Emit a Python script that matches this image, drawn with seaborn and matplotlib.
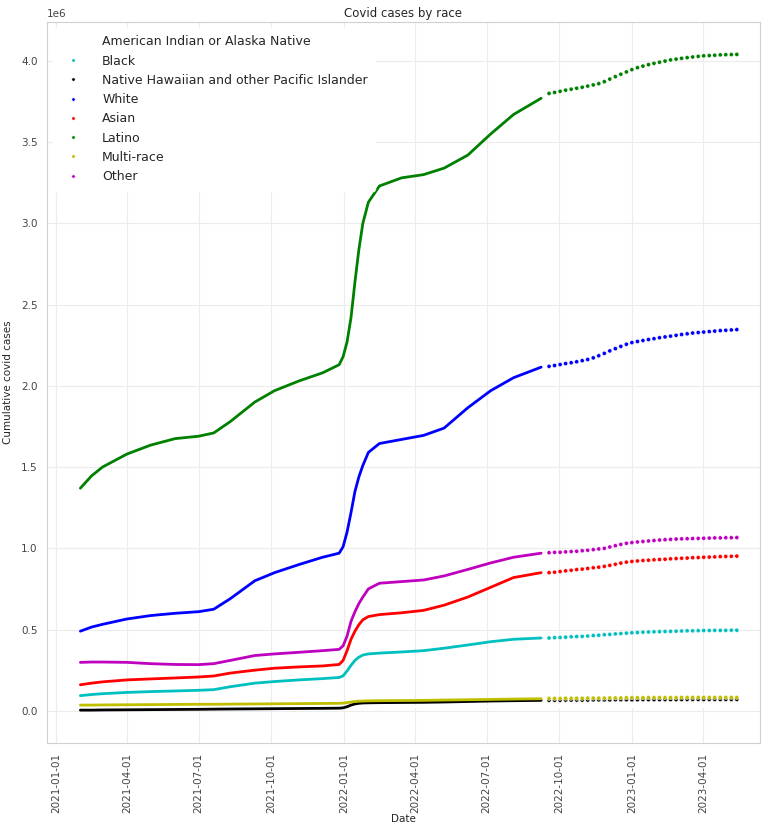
import pandas as pd
import numpy as np
import matplotlib
matplotlib.use('Agg')
import matplotlib.pyplot as plt
import matplotlib.dates as mdates
import seaborn as sns

# Race groups and their colours (matplotlib single-letter colours)
RACES = ['American Indian or Alaska Native', 'Black',
         'Native Hawaiian and other Pacific Islander', 'White', 'Asian',
         'Latino', 'Multi-race', 'Other']
COLORS = ['w', 'c', 'k', 'b', 'r', 'g', 'y', 'm']

# Daily reporting period (read at selected dates), values in millions
dense_dates = ['2021-02-01', '2021-02-15', '2021-03-01', '2021-04-01', '2021-05-01',
               '2021-06-01', '2021-07-01', '2021-07-20', '2021-08-10', '2021-09-10',
               '2021-10-05', '2021-11-05', '2021-12-05', '2021-12-26', '2021-12-31',
               '2022-01-05', '2022-01-10', '2022-01-15', '2022-01-20', '2022-01-25',
               '2022-02-01', '2022-02-15', '2022-03-15', '2022-04-12', '2022-05-08',
               '2022-06-07', '2022-07-06', '2022-08-04', '2022-09-08']

aian_dense = [0.010, 0.010, 0.011, 0.012, 0.012, 0.013, 0.013, 0.013, 0.014, 0.015,
              0.015, 0.016, 0.016, 0.017, 0.017, 0.019, 0.021, 0.022, 0.023, 0.024,
              0.024, 0.024, 0.025, 0.025, 0.026, 0.026, 0.027, 0.027, 0.028]
black_dense = [0.093, 0.100, 0.105, 0.113, 0.118, 0.122, 0.126, 0.130, 0.148, 0.170,
               0.180, 0.190, 0.198, 0.205, 0.215, 0.245, 0.280, 0.310, 0.330, 0.343,
               0.350, 0.355, 0.362, 0.370, 0.385, 0.405, 0.425, 0.440, 0.448]
nhpi_dense = [0.004, 0.004, 0.005, 0.006, 0.007, 0.008, 0.009, 0.010, 0.011, 0.012,
              0.013, 0.014, 0.015, 0.016, 0.018, 0.025, 0.035, 0.042, 0.046, 0.048,
              0.049, 0.050, 0.051, 0.052, 0.054, 0.057, 0.060, 0.062, 0.064]
white_dense = [0.490, 0.515, 0.532, 0.565, 0.586, 0.600, 0.610, 0.625, 0.690, 0.800,
               0.850, 0.900, 0.945, 0.970, 1.010, 1.100, 1.220, 1.350, 1.440, 1.510,
               1.590, 1.645, 1.670, 1.695, 1.740, 1.865, 1.970, 2.050, 2.115]
asian_dense = [0.160, 0.170, 0.178, 0.190, 0.196, 0.202, 0.208, 0.214, 0.232, 0.250,
               0.262, 0.270, 0.276, 0.285, 0.310, 0.370, 0.440, 0.490, 0.530, 0.560,
               0.580, 0.592, 0.603, 0.618, 0.650, 0.700, 0.760, 0.820, 0.850]
latino_dense = [1.370, 1.445, 1.500, 1.580, 1.635, 1.675, 1.690, 1.710, 1.780, 1.900,
                1.970, 2.030, 2.080, 2.130, 2.180, 2.270, 2.420, 2.640, 2.840, 3.000,
                3.130, 3.230, 3.280, 3.300, 3.340, 3.420, 3.550, 3.670, 3.770]
multi_dense = [0.035, 0.035, 0.036, 0.037, 0.038, 0.039, 0.040, 0.040, 0.041, 0.042,
               0.043, 0.044, 0.045, 0.046, 0.047, 0.050, 0.054, 0.057, 0.059, 0.060,
               0.061, 0.062, 0.063, 0.064, 0.066, 0.068, 0.070, 0.072, 0.074]
other_dense = [0.298, 0.300, 0.300, 0.298, 0.290, 0.285, 0.284, 0.290, 0.310, 0.340,
               0.350, 0.360, 0.370, 0.378, 0.400, 0.460, 0.550, 0.610, 0.660, 0.700,
               0.750, 0.785, 0.795, 0.805, 0.830, 0.870, 0.910, 0.945, 0.970]

# Weekly reporting period, values in millions
weekly_start = '2022-09-18'
n_weeks = 35

aian_weekly = [0.028, 0.028, 0.028, 0.028, 0.028, 0.029, 0.029, 0.029, 0.029, 0.029,
               0.029, 0.029, 0.030, 0.030, 0.030, 0.030, 0.030, 0.030, 0.030, 0.030,
               0.030, 0.031, 0.031, 0.031, 0.031, 0.031, 0.031, 0.031, 0.031, 0.031,
               0.031, 0.031, 0.031, 0.031, 0.031]
black_weekly = [0.448, 0.450, 0.451, 0.453, 0.455, 0.457, 0.458, 0.460, 0.463, 0.465,
                0.468, 0.470, 0.473, 0.475, 0.478, 0.480, 0.482, 0.484, 0.485, 0.486,
                0.487, 0.488, 0.489, 0.490, 0.491, 0.492, 0.492, 0.493, 0.494, 0.494,
                0.495, 0.495, 0.495, 0.496, 0.496]
nhpi_weekly = [0.065, 0.065, 0.065, 0.066, 0.066, 0.066, 0.066, 0.066, 0.067, 0.067,
               0.067, 0.067, 0.068, 0.068, 0.068, 0.068, 0.068, 0.069, 0.069, 0.069,
               0.069, 0.069, 0.069, 0.069, 0.070, 0.070, 0.070, 0.070, 0.070, 0.070,
               0.070, 0.070, 0.070, 0.070, 0.070]
white_weekly = [2.120, 2.125, 2.131, 2.137, 2.142, 2.148, 2.155, 2.162, 2.172, 2.185,
                2.200, 2.215, 2.229, 2.243, 2.256, 2.266, 2.273, 2.279, 2.285, 2.290,
                2.296, 2.301, 2.306, 2.311, 2.316, 2.320, 2.325, 2.328, 2.331, 2.334,
                2.337, 2.340, 2.342, 2.344, 2.346]
asian_weekly = [0.850, 0.853, 0.857, 0.861, 0.865, 0.869, 0.872, 0.876, 0.880, 0.884,
                0.889, 0.895, 0.902, 0.909, 0.915, 0.919, 0.922, 0.925, 0.927, 0.929,
                0.931, 0.933, 0.935, 0.937, 0.939, 0.940, 0.942, 0.943, 0.945, 0.946,
                0.947, 0.949, 0.950, 0.951, 0.952]
latino_weekly = [3.800, 3.806, 3.813, 3.820, 3.826, 3.832, 3.838, 3.845, 3.852, 3.860,
                 3.872, 3.888, 3.903, 3.918, 3.932, 3.946, 3.958, 3.968, 3.977, 3.985,
                 3.992, 3.999, 4.006, 4.011, 4.016, 4.020, 4.024, 4.028, 4.031, 4.033,
                 4.035, 4.037, 4.038, 4.039, 4.040]
multi_weekly = [0.076, 0.076, 0.076, 0.077, 0.077, 0.077, 0.077, 0.078, 0.078, 0.078,
                0.078, 0.079, 0.079, 0.079, 0.080, 0.080, 0.080, 0.080, 0.081, 0.081,
                0.081, 0.081, 0.081, 0.081, 0.082, 0.082, 0.082, 0.082, 0.082, 0.082,
                0.082, 0.082, 0.082, 0.082, 0.082]
other_weekly = [0.973, 0.975, 0.976, 0.978, 0.980, 0.982, 0.985, 0.988, 0.992, 0.996,
                1.000, 1.008, 1.016, 1.024, 1.031, 1.035, 1.039, 1.042, 1.045, 1.048,
                1.051, 1.053, 1.055, 1.057, 1.058, 1.059, 1.060, 1.061, 1.062, 1.063,
                1.064, 1.064, 1.065, 1.065, 1.066]

dense_series = [aian_dense, black_dense, nhpi_dense, white_dense, asian_dense,
                latino_dense, multi_dense, other_dense]
weekly_series = [aian_weekly, black_weekly, nhpi_weekly, white_weekly, asian_weekly,
                 latino_weekly, multi_weekly, other_weekly]

# Visible date window of the axes
X_RANGE = ('2020-12-21', '2023-06-12')


def to_long(dates, series_list):
    frames = []
    for race, vals in zip(RACES, series_list):
        frames.append(pd.DataFrame({'Date': pd.to_datetime(dates),
                                    'race': race,
                                    'cases': np.array(vals) * 1e6}))
    return pd.concat(frames, ignore_index=True)


dense_df = to_long(dense_dates, dense_series)
weekly_dates = pd.date_range(weekly_start, periods=n_weeks, freq='7D')
weekly_df = to_long(weekly_dates, weekly_series)
palette = dict(zip(RACES, COLORS))

sns.set_style('whitegrid', {'grid.color': '#ececec', 'axes.edgecolor': '#d0d0d0'})
plt.rcParams['font.family'] = ['DejaVu Sans']

fig = plt.figure(figsize=(7.62, 8.31), dpi=100)
ax = fig.add_axes([0.062, 0.106, 0.935, 0.868])

sns.lineplot(data=dense_df, x='Date', y='cases', hue='race', palette=palette,
             hue_order=RACES, linewidth=2.0, legend=False, ax=ax)
sns.scatterplot(data=weekly_df, x='Date', y='cases', hue='race', palette=palette,
                hue_order=RACES, s=9, linewidth=0.3, ax=ax)

ax.set_xlim(pd.to_datetime(X_RANGE[0]), pd.to_datetime(X_RANGE[1]))
ax.xaxis.set_major_locator(mdates.MonthLocator(bymonth=[1, 4, 7, 10]))
ax.xaxis.set_major_formatter(mdates.DateFormatter('%Y-%m-%d'))
plt.setp(ax.get_xticklabels(), rotation=90)
ax.tick_params(axis='both', labelsize=7.5, colors='#444444')
ax.yaxis.get_offset_text().set_fontsize(7.5)
ax.set_xlabel('Date', fontsize=7.5, labelpad=1)
ax.set_ylabel('Cumulative covid cases', fontsize=7.5, labelpad=6)
ax.set_title('Covid cases by race', fontsize=8.5, pad=3)

leg = ax.legend(loc='upper left', fontsize=9, frameon=True, markerscale=0.8,
                labelspacing=0.5, handletextpad=1.3, borderpad=0.6)
leg.get_frame().set_edgecolor('white')
leg.get_frame().set_alpha(1.0)

fig.savefig('out.png', dpi=100)
